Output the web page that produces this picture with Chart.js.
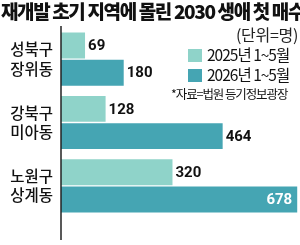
<!DOCTYPE html>
<html>
<head>
<meta charset="utf-8">
<script src="https://cdn.jsdelivr.net/npm/chart.js@4"></script>
<style>
  html, body { margin: 0; padding: 0; background: #fff; }
  #wrap { position: relative; width: 300px; height: 245px; overflow: hidden; font-family: "Noto Sans CJK KR", sans-serif; }
  #myChart { position: absolute; left: 0; top: 0; }
  .title { position: absolute; left: 1px; top: -3px; font-size: 19px; font-weight: 900; color: #111; letter-spacing: -1.38px; white-space: nowrap; }
  .unit { position: absolute; right: 2px; top: 22px; font-size: 16px; color: #222; letter-spacing: -0.3px; }
  .legend { position: absolute; left: 188px; top: 44px; font-size: 15.5px; color: #111; }
  .legend div { height: 20px; line-height: 20px; white-space: nowrap; letter-spacing: -1px; }
  .legend span { display: inline-block; width: 14px; height: 13px; vertical-align: -1px; margin-right: 5px; }
  .source { position: absolute; left: 171px; top: 84px; font-size: 12.5px; color: #111; letter-spacing: -1.1px; white-space: nowrap; }
</style>
</head>
<body>
<div id="wrap">
  <canvas id="myChart" width="300" height="245"></canvas>
  <div class="title">재개발 초기 지역에 몰린 2030 생애 첫 매수</div>
  <div class="unit">(단위=명)</div>
  <div class="legend">
    <div><span style="background:#8fd3c9"></span>2025년 1~5월</div>
    <div><span style="background:#45a5b3"></span>2026년 1~5월</div>
  </div>
  <div class="source">*자료=법원 등기정보광장</div>
</div>
<script>
const areas = [["성북구", "장위동"], ["강북구", "미아동"], ["노원구", "상계동"]];
const seriesNames = ["2025년 1~5월", "2026년 1~5월"];
const buyers2025 = [69, 128, 320];
const buyers2026 = [180, 464, 678];

const valueLabels = {
  id: "valueLabels",
  afterDatasetsDraw: (chart) => {
    const ctx = chart.ctx;
    ctx.save();
    ctx.font = "bold 15px 'Liberation Sans Narrow', 'Roboto', sans-serif";
    ctx.textBaseline = "middle";
    chart.data.datasets.forEach((ds, i) => {
      chart.getDatasetMeta(i).data.forEach((bar, j) => {
        const v = ds.data[j];
        const inside = bar.x > chart.chartArea.right - 40;
        if (inside) {
          ctx.fillStyle = "#fff";
          ctx.textAlign = "right";
          ctx.fillText(v, bar.x - 5, bar.y + 1);
        } else {
          ctx.fillStyle = "#111";
          ctx.textAlign = "left";
          ctx.fillText(v, bar.x + 3, bar.y + 1);
        }
      });
    });
    ctx.restore();
  },
};

const axisLine = {
  id: "axisLine",
  afterDatasetsDraw: (chart) => {
    const ctx = chart.ctx;
    const x = chart.chartArea.left;
    ctx.save();
    ctx.strokeStyle = "#222";
    ctx.lineWidth = 1.5;
    ctx.beginPath();
    ctx.moveTo(x, 26);
    ctx.lineTo(x, 240);
    ctx.stroke();
    ctx.restore();
  },
};

new Chart(document.getElementById("myChart"), {
  type: "bar",
  data: {
    labels: areas,
    datasets: [
      {
        label: seriesNames[0],
        data: buyers2025,
        backgroundColor: "#8fd3c9",
        barPercentage: 0.95,
        categoryPercentage: 0.86,
      },
      {
        label: seriesNames[1],
        data: buyers2026,
        backgroundColor: "#45a5b3",
        barPercentage: 0.95,
        categoryPercentage: 0.86,
      },
    ],
  },
  options: {
    indexAxis: "y",
    responsive: false,
    animation: false,
    layout: { padding: { top: 25, bottom: 3, left: 0, right: 0 } },
    scales: {
      x: {
        display: false,
        min: 0,
        max: 686,
      },
      y: {
        grid: { display: false, drawTicks: false },
        border: { display: false },
        afterFit: (scale) => {
          scale.width = 61;
        },
        ticks: {
          color: "#111",
          padding: 8,
          font: { family: "'Noto Sans CJK KR'", size: 15.5, weight: "500", lineHeight: 1.25 },
        },
      },
    },
    plugins: {
      legend: { display: false },
      tooltip: { enabled: false },
    },
  },
  plugins: [valueLabels, axisLine],
});
</script>
</body>
</html>
